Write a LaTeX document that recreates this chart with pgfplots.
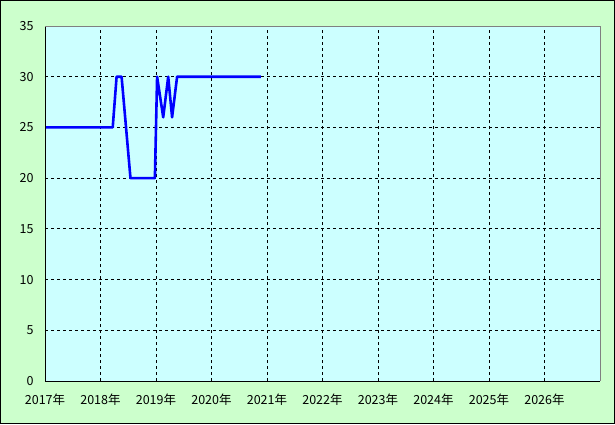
\documentclass[border=0pt]{standalone}
\usepackage{pgfplots}
\pgfplotsset{compat=1.18}
\usepackage{fontspec}
\newfontfamily\jp{Noto Sans CJK JP}
\definecolor{bggreen}{HTML}{CCFFCC}
\definecolor{plotcyan}{HTML}{CCFFFF}
\begin{document}
\begin{tikzpicture}[x=1pt,y=1pt]
\draw[black,line width=1pt,fill=bggreen] (0.5,0.5) rectangle (614.5,423.5);
\begin{axis}[
  at={(45pt,43pt)}, anchor=south west,
  scale only axis, width=555pt, height=355pt,
  xmin=2017, xmax=2027, ymin=0, ymax=35,
  xtick={2017,...,2026},
  xticklabels={2017年,2018年,2019年,2020年,2021年,2022年,2023年,2024年,2025年,2026年},
  ytick={0,5,...,35},
  major tick length=0pt,
  axis line style={draw=none},
  axis background/.style={fill=plotcyan},
  grid=major,
  major grid style={black,line width=0.8pt,dash pattern=on 3pt off 3pt},
  tick label style={font=\jp\fontsize{12.5}{13}\selectfont, text=black},
  /pgf/number format/assume math mode=true,
  xticklabel style={yshift=-9pt},
  yticklabel style={xshift=-8pt},
  clip=false,
]
\addplot[blue, line width=2.6pt, line join=round, mark=none] coordinates {
  (2017,25) (2018.22,25) (2018.29,30) (2018.38,30) (2018.54,20) (2018.98,20)
  (2019.02,30) (2019.13,26) (2019.22,30) (2019.29,26) (2019.38,30) (2020.89,30)
};
\draw[black,line width=1pt] (rel axis cs:0,1) -- (rel axis cs:0,0) -- (rel axis cs:1,0);
\draw[gray,line width=1pt] (rel axis cs:0,1) -- (rel axis cs:1,1) -- (rel axis cs:1,0);
\end{axis}
\end{tikzpicture}
\end{document}
